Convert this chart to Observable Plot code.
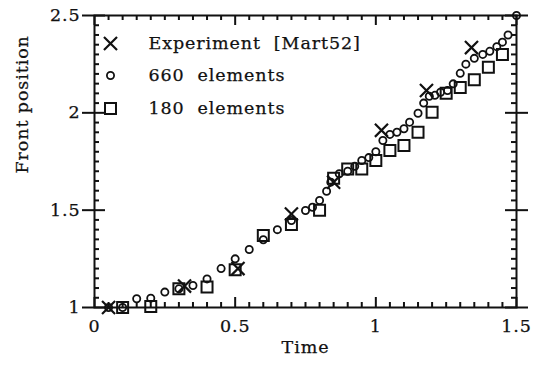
<!DOCTYPE html>
<html>
<head>
<meta charset="utf-8">
<script src="https://cdn.jsdelivr.net/npm/d3@7"></script>
<script src="https://cdn.jsdelivr.net/npm/@observablehq/plot@0.6"></script>
<style>
  html, body { margin: 0; padding: 0; background: #fff; }
  #chart svg text { letter-spacing: 0.9px; stroke: #111; stroke-width: 0.25px; }
</style>
</head>
<body>
<div id="chart"></div>
<script>
// ---- Data ----
const time660  = [0.05, 0.10, 0.15, 0.20, 0.25, 0.30, 0.35, 0.40, 0.45, 0.50, 0.55, 0.60, 0.65, 0.70, 0.75, 0.775, 0.80, 0.825, 0.84, 0.87, 0.90, 0.925, 0.95, 0.975, 1.00, 1.025, 1.05, 1.075, 1.10, 1.12, 1.15, 1.17, 1.19, 1.21, 1.23, 1.255, 1.275, 1.30, 1.32, 1.35, 1.38, 1.405, 1.43, 1.45, 1.47, 1.50];
const front660 = [1.00, 1.00, 1.045, 1.048, 1.079, 1.096, 1.113, 1.147, 1.20, 1.25, 1.298, 1.348, 1.40, 1.447, 1.498, 1.515, 1.55, 1.597, 1.644, 1.687, 1.70, 1.725, 1.755, 1.77, 1.80, 1.858, 1.889, 1.90, 1.918, 1.952, 1.998, 2.05, 2.085, 2.09, 2.106, 2.115, 2.149, 2.203, 2.25, 2.28, 2.30, 2.316, 2.34, 2.363, 2.40, 2.50];

const time180  = [0.10, 0.20, 0.30, 0.40, 0.50, 0.60, 0.70, 0.80, 0.85, 0.90, 0.95, 1.00, 1.05, 1.10, 1.15, 1.20, 1.25, 1.30, 1.35, 1.40, 1.45];
const front180 = [1.00, 1.005, 1.096, 1.105, 1.194, 1.37, 1.426, 1.50, 1.664, 1.712, 1.712, 1.755, 1.806, 1.832, 1.90, 2.003, 2.10, 2.13, 2.17, 2.234, 2.30];

const timeExp  = [0.05, 0.32, 0.51, 0.70, 0.85, 1.02, 1.18, 1.34];
const frontExp = [1.00, 1.11, 1.20, 1.48, 1.644, 1.91, 2.115, 2.335];

const xMajor = [0, 0.5, 1, 1.5];
const yMajor = [1, 1.5, 2, 2.5];
const xMinor = d3.range(1, 30).map(i => i * 0.05).filter(v => Math.abs(v * 2 - Math.round(v * 2)) > 1e-6);
const yMinor = d3.range(1, 30).map(i => 1 + i * 0.05).filter(v => Math.abs(v * 2 - Math.round(v * 2)) > 1e-6);

const legendLabels = ["Experiment  [Mart52]", "660  elements", "180  elements"];
const xLabel = "Time";
const yLabel = "Front position";

const toRows = (xs, ys) => xs.map((t, i) => ({t, f: ys[i]}));
const rows660 = toRows(time660, front660);
const rows180 = toRows(time180, front180);
const rowsExp = toRows(timeExp, frontExp);

const W = 536, H = 366, ML = 94, MR = 20, MT = 15, MB = 59;
const FW = W - ML - MR, FH = H - MT - MB;
const ink = "#111";
const FS = 17.5;

const chart = Plot.plot({
  width: W, height: H,
  marginLeft: ML, marginRight: MR, marginTop: MT, marginBottom: MB,
  x: {domain: [0, 1.5]},
  y: {domain: [1, 2.5]},
  style: {fontFamily: "'DejaVu Serif', serif", fontSize: FS + "px", background: "#fff", color: ink},
  marks: [
    Plot.frame({stroke: ink, strokeWidth: 2}),
    Plot.ruleY(yMajor, {insetLeft: -12, insetRight: FW - 11, stroke: ink, strokeWidth: 2}),
    Plot.ruleY(yMajor, {insetLeft: FW - 11, insetRight: -12, stroke: ink, strokeWidth: 2}),
    Plot.ruleY(yMinor, {insetRight: FW - 5, stroke: ink, strokeWidth: 2}),
    Plot.ruleY(yMinor, {insetLeft: FW - 5, stroke: ink, strokeWidth: 2}),
    Plot.ruleX(xMajor, {insetTop: FH - 10, stroke: ink, strokeWidth: 2}),
    Plot.ruleX(xMajor, {insetBottom: FH - 10, stroke: ink, strokeWidth: 2}),
    Plot.ruleX(xMinor, {insetTop: FH - 5, stroke: ink, strokeWidth: 2}),
    Plot.ruleX(xMinor, {insetBottom: FH - 5, stroke: ink, strokeWidth: 2}),
    Plot.axisX(xMajor, {tickSize: 0, tickPadding: 12, tickFormat: d => String(d), label: null, fontSize: FS}),
    Plot.axisY(yMajor, {tickSize: 0, tickPadding: 14, tickFormat: d => String(d), label: null, fontSize: FS}),
    Plot.text([xLabel], {frameAnchor: "bottom", dy: 45, fontSize: FS}),
    Plot.text([yLabel], {frameAnchor: "left", dx: -72, dy: 12, rotate: -90, fontSize: FS}),
    Plot.dot(rows180, {x: "t", y: "f", symbol: "square", r: 6.2, stroke: ink, strokeWidth: 2, fill: "none"}),
    Plot.dot(rows660, {x: "t", y: "f", symbol: "circle", r: 3.6, stroke: ink, strokeWidth: 1.8, fill: "none"}),
    Plot.dot(rowsExp, {x: "t", y: "f", symbol: "times", r: 6, stroke: ink, strokeWidth: 2.2}),
    Plot.dot([0], {frameAnchor: "top-left", dx: 16, dy: 28, symbol: "times", r: 6, stroke: ink, strokeWidth: 2.2}),
    Plot.dot([0], {frameAnchor: "top-left", dx: 16, dy: 60, symbol: "circle", r: 3.6, stroke: ink, strokeWidth: 1.8, fill: "none"}),
    Plot.dot([0], {frameAnchor: "top-left", dx: 16, dy: 93, symbol: "square", r: 6.2, stroke: ink, strokeWidth: 2, fill: "none"}),
    Plot.text([legendLabels[0]], {frameAnchor: "top-left", dx: 54, dy: 28, textAnchor: "start", lineAnchor: "middle", fontSize: FS}),
    Plot.text([legendLabels[1]], {frameAnchor: "top-left", dx: 54, dy: 60, textAnchor: "start", lineAnchor: "middle", fontSize: FS}),
    Plot.text([legendLabels[2]], {frameAnchor: "top-left", dx: 54, dy: 93, textAnchor: "start", lineAnchor: "middle", fontSize: FS})
  ]
});
document.getElementById("chart").appendChild(chart);
</script>
</body>
</html>
